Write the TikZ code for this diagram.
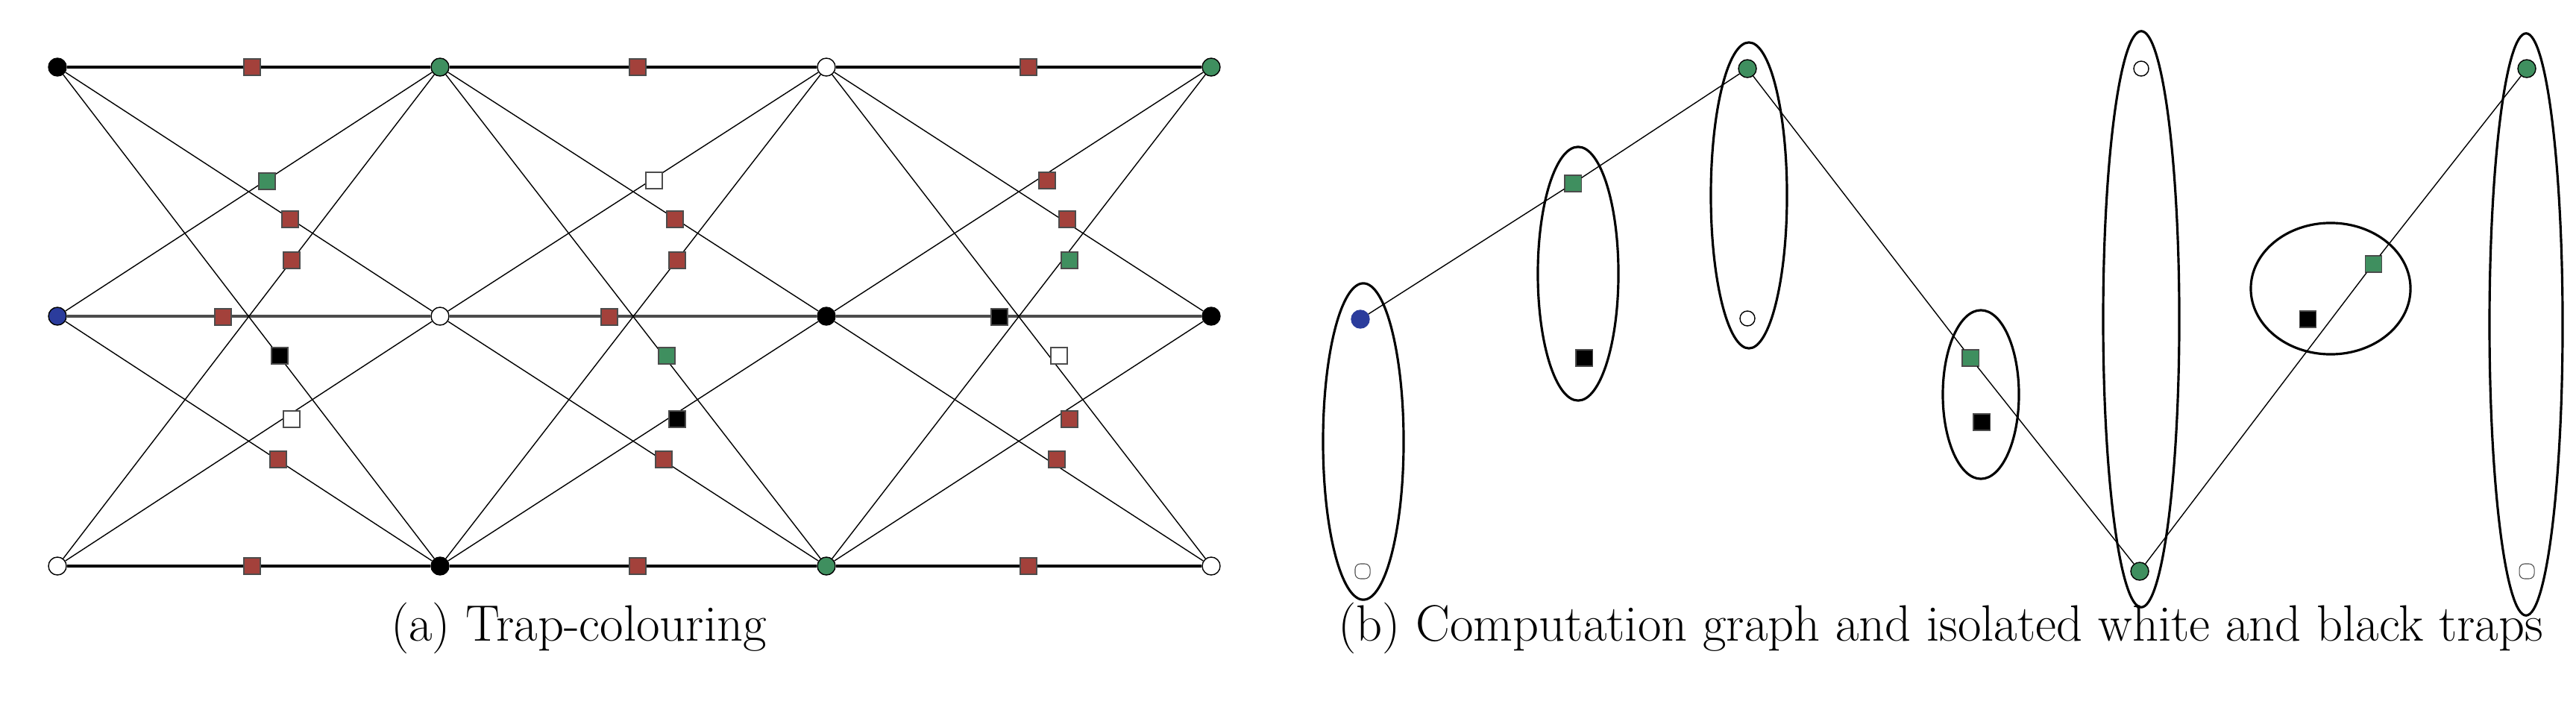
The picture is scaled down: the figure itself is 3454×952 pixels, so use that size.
\documentclass[tikz,border=0pt]{standalone}
\usetikzlibrary{shapes.geometric}
\definecolor{tred}{HTML}{A3413B}
\definecolor{tgreen}{HTML}{3F8F5F}
\definecolor{tblue}{HTML}{2B3C9C}
\begin{document}
\begin{tikzpicture}[x=0.01cm,y=-0.01cm,
  vtx/.style={circle,draw=black,line width=0.4pt,inner sep=0pt,minimum size=0.24cm},
  sq/.style={rectangle,draw=black!70,line width=0.3pt,inner sep=0pt,minimum size=0.22cm},
  hedge/.style={line width=0.9pt},
  dedge/.style={line width=0.4pt},
  grp/.style={ellipse,draw,line width=0.9pt,inner sep=0pt},
  captxt/.style={font=\fontsize{19.5}{23}\selectfont}]
\useasboundingbox (0,0) rectangle (3454,952);
% ---------- (a) ----------
\node[vtx,fill=black] (t0) at (77,90) {};
\node[vtx,fill=tgreen] (t1) at (590,90) {};
\node[vtx,fill=white] (t2) at (1108,90) {};
\node[vtx,fill=tgreen] (t3) at (1624,90) {};
\node[vtx,fill=tblue] (m0) at (77,424) {};
\node[vtx,fill=white] (m1) at (590,424) {};
\node[vtx,fill=black] (m2) at (1108,424) {};
\node[vtx,fill=black] (m3) at (1624,424) {};
\node[vtx,fill=white] (b0) at (77,759) {};
\node[vtx,fill=black] (b1) at (590,759) {};
\node[vtx,fill=tgreen] (b2) at (1108,759) {};
\node[vtx,fill=white] (b3) at (1624,759) {};
\foreach \i/\j in {0/1,1/2,2/3}{
  \draw[hedge] (t\i) -- (t\j);
  \draw[hedge,black!70] (m\i) -- (m\j);
  \draw[hedge] (b\i) -- (b\j);
  \draw[dedge] (t\i) -- (m\j);
  \draw[dedge] (t\i) -- (b\j);
  \draw[dedge] (m\i) -- (t\j);
  \draw[dedge] (m\i) -- (b\j);
  \draw[dedge] (b\i) -- (t\j);
  \draw[dedge] (b\i) -- (m\j);
}
% traps
\foreach \x/\y/\c [count=\k] in {
 338/90/tred,358/243/tgreen,389/294/tred,391/349/tred,299/425/tred,375/477/black,391/562/white,373/616/tred,338/759/tred,
 855/90/tred,877/242/white,905/294/tred,908/349/tred,817/425/tred,894/477/tgreen,908/562/black,890/616/tred,855/759/tred,
 1379/90/tred,1404/242/tred,1431/294/tred,1434/349/tgreen,1340/425/black,1420/477/white,1434/562/tred,1417/616/tred,1379/759/tred}
  \node[sq,fill=\c] (q\k) at (\x,\y) {};
\node[captxt] (capa) at (776,842) {(a) Trap-colouring};
% ---------- (b) ----------
\node[grp,minimum width=1.08cm,minimum height=4.24cm] (e1) at (1828,592) {};
\node[grp,minimum width=1.08cm,minimum height=3.40cm] (e2) at (2116,367) {};
\node[grp,minimum width=1.02cm,minimum height=4.10cm] (e3) at (2345,262) {};
\node[grp,minimum width=1.02cm,minimum height=2.26cm] (e4) at (2656,529) {};
\node[grp,minimum width=1.02cm,minimum height=7.72cm] (e5) at (2871,428) {};
\node[grp,minimum width=2.14cm,minimum height=1.76cm] (e6) at (3125,387) {};
\node[grp,minimum width=0.98cm,minimum height=7.80cm] (e7) at (3387,435) {};
\node[vtx,fill=tblue,draw=tblue] (r1) at (1824,428) {};
\node[sq,fill=tgreen] (r2) at (2109,246) {};
\node[vtx,fill=tgreen] (r3) at (2343,92) {};
\node[sq,fill=tgreen] (r4) at (2642,480) {};
\node[vtx,fill=tgreen] (r5) at (2869,766) {};
\node[sq,fill=tgreen] (r6) at (3182,354) {};
\node[vtx,fill=tgreen] (r7) at (3388,92) {};
\draw[dedge] (r1) -- (r2) -- (r3) -- (r4) -- (r5) -- (r6) -- (r7);
\node[sq,fill=white,rounded corners=2pt,minimum size=0.2cm] (w1) at (1827,766) {};
\node[sq,fill=black] (k2) at (2124,480) {};
\node[vtx,fill=white,minimum size=0.2cm] (w3) at (2343,427) {};
\node[sq,fill=black] (k4) at (2657,566) {};
\node[vtx,fill=white,minimum size=0.2cm] (w5) at (2871,92) {};
\node[sq,fill=black] (k6) at (3094,428) {};
\node[sq,fill=white,rounded corners=2pt,minimum size=0.2cm] (w7) at (3388,766) {};
\node[captxt] (capb) at (2602,842) {(b) Computation graph and isolated white and black traps};
\end{tikzpicture}
\end{document}
